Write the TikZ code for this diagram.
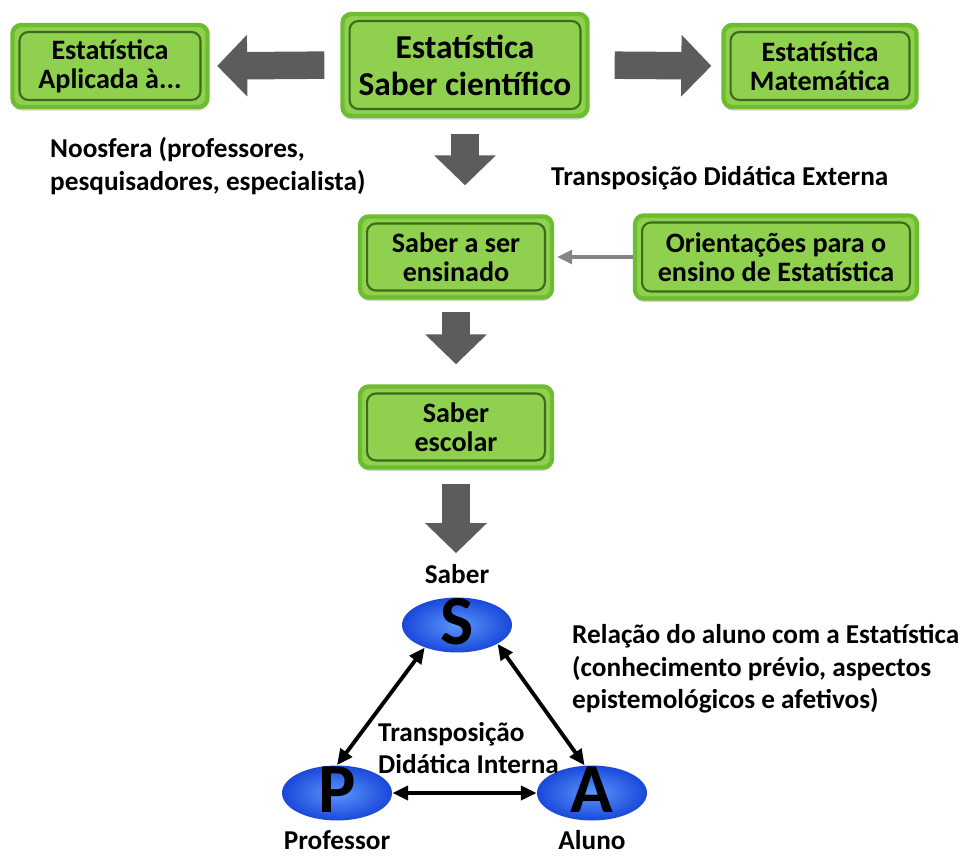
\documentclass[tikz,border=0pt]{standalone}
\usepackage{fontspec}
\setmainfont{Carlito}
\usetikzlibrary{arrows.meta,shadows,shapes.geometric,positioning}

\definecolor{boxgreen}{RGB}{143,208,78}
\definecolor{rimgreen}{RGB}{110,188,48}
\definecolor{edgegreen}{RGB}{58,108,28}
\definecolor{arrowgray}{RGB}{92,92,92}
\definecolor{ballblue}{RGB}{26,72,218}
\definecolor{ballhi}{RGB}{90,150,252}

\newcommand{\bigletter}[1]{\makebox[0pt]{\smash{\raisebox{-.42\height}{#1}}}}

\begin{document}
\begin{tikzpicture}[x=0.02cm,y=-0.02cm,
    font=\bfseries\fontsize{15.5}{18.5}\selectfont,
    greenbox/.style={rectangle, rounded corners=5pt, fill=boxgreen,
      draw=rimgreen, line width=2.5pt, align=center, inner sep=2pt,
      minimum width=3.9cm, minimum height=1.64cm,
      font=\bfseries\fontsize{16}{16.5}\selectfont,
      drop shadow={opacity=.35, shadow xshift=0pt, shadow yshift=-2pt},
      path picture={\draw[edgegreen, line width=1.2pt]
        ([shift={(4pt,-4pt)}]path picture bounding box.north west) rectangle
        ([shift={(-4pt,4pt)}]path picture bounding box.south east);}},
    bigarrow/.style={arrowgray, line width=0.55cm,
      -{Triangle[length=0.6cm,width=1.2cm]}},
    thinarrow/.style={arrowgray!75, line width=1.8pt,
      -{Triangle[length=0.3cm,width=0.28cm]}},
    triad/.style={ellipse, minimum width=2.2cm, minimum height=1.1cm,
      inner sep=0pt, shading=radial, inner color=ballhi, outer color=ballblue,
      font=\fontsize{40}{40}\selectfont\bfseries},
    link/.style={black, line width=2.2pt,
      {Triangle[length=9pt,width=8pt]}-{Triangle[length=9pt,width=8pt]}}
  ]
  \useasboundingbox (0,0) rectangle (979,861);

  % external transposition
  \node[greenbox, minimum width=4.9cm, minimum height=2.04cm,
    font=\bfseries\fontsize{19}{21}\selectfont] (sci) at (465,65)
    {Estatística\\Saber científico};
  \node[greenbox] (apl) at (110,66) {Estatística\\Aplicada à...};
  \node[greenbox, minimum width=3.86cm] (mat) at (820,66) {Estatística\\Matemática};
  \node[greenbox, minimum width=3.84cm, minimum height=1.62cm] (ens) at (456,257)
    {Saber a ser\\ensinado};
  \node[greenbox, minimum width=5.64cm, minimum height=1.66cm] (ori) at (776,257)
    {Orientações para o\\ensino de Estatística};
  \node[greenbox, minimum width=3.84cm, minimum height=1.62cm] (esc) at (456,427)
    {Saber\\escolar};

  \node[anchor=west, align=left] (noos) at (44,166)
    {Noosfera (professores,\\pesquisadores, especialista)};
  \node[anchor=west] (ext) at (545,178) {Transposição Didática Externa};

  \draw[bigarrow, shorten <=0.32cm, shorten >=0.15cm] (sci.west) -- (apl.east);
  \draw[bigarrow, shorten <=0.5cm, shorten >=0.2cm] (sci.east) -- (mat.west);
  \draw[bigarrow, shorten <=0.32cm, shorten >=0.58cm] (sci.south) -- (sci.south |- ens.north);
  \draw[bigarrow, shorten <=0.24cm, shorten >=0.4cm] (ens.south) -- (esc.north);
  \draw[thinarrow, shorten >=0.06cm] (ori.west) -- (ori.west -| ens.east);

  % didactic triangle
  \node[triad] (S) at (457,625) {\bigletter{S}};
  \node[triad] (P) at (337,793) {\bigletter{P}};
  \node[triad] (A) at (592,793) {\bigletter{A}};
  \node[above=4pt of S] (slbl) {Saber};
  \node[below=2pt of P] (plbl) {Professor};
  \node[below=2pt of A] (albl) {Aluno};

  \draw[bigarrow, shorten <=0.28cm, shorten >=3pt] (esc.south) -- (esc.south |- slbl.north);

  \draw[link] (P.north) -- (S.215);
  \draw[link] (S.-25) -- (A.105);
  \draw[link] (P.east) -- (A.west);

  \node[anchor=west, align=left] (int) at (372,748) {Transposição\\Didática Interna};
  \node[anchor=west, align=left] (rel) at (566,669)
    {Relação do aluno com a Estatística\\(conhecimento prévio, aspectos\\epistemológicos e afetivos)};
\end{tikzpicture}
\end{document}
